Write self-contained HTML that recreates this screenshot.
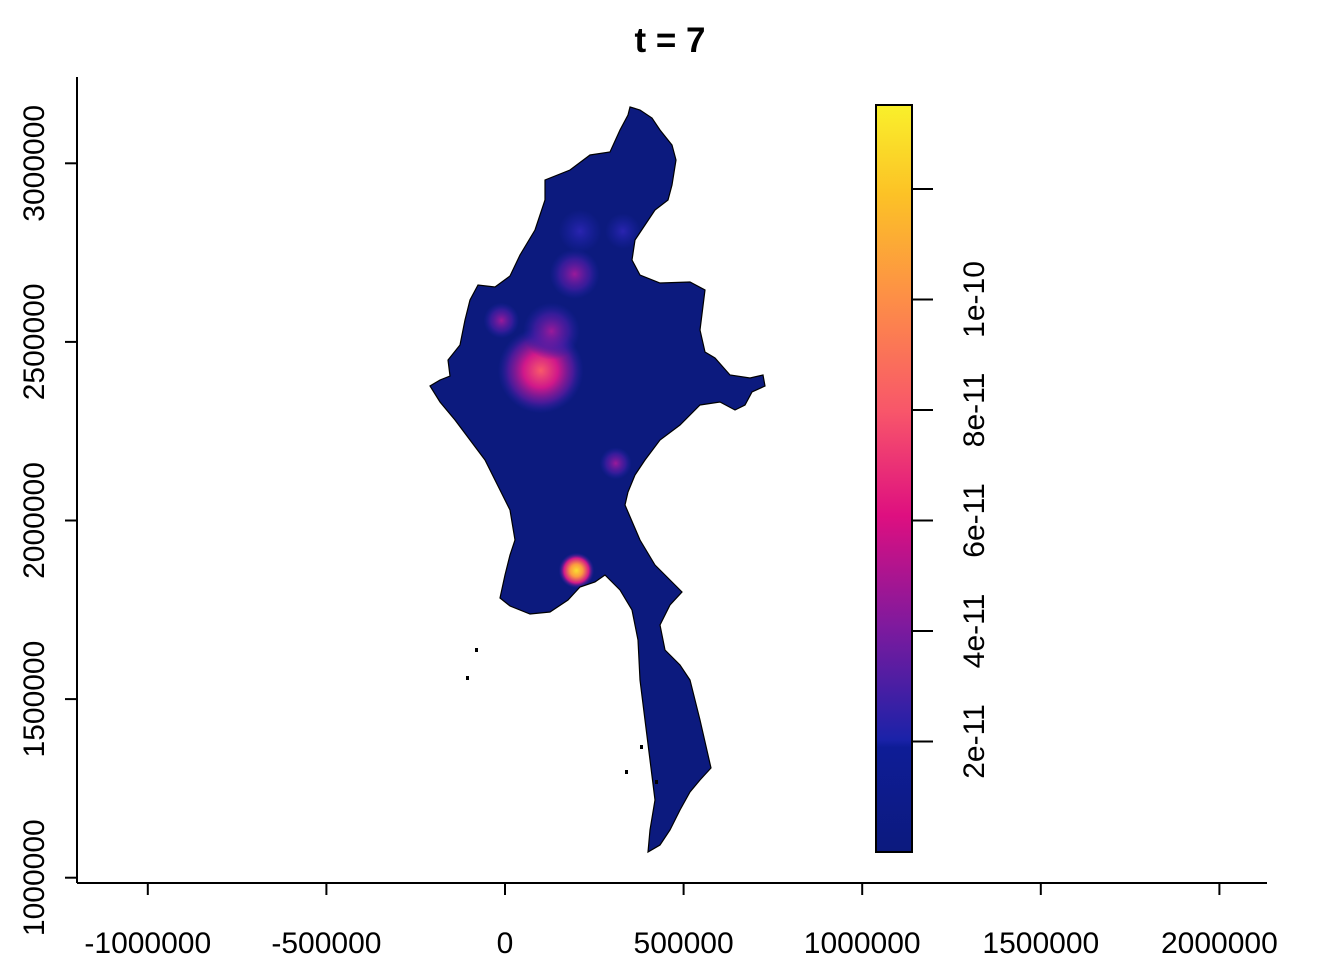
<!DOCTYPE html>
<html><head><meta charset="utf-8"><style>
html,body{margin:0;padding:0;background:#fff;}
svg{display:block;font-family:"Liberation Sans",Arial,sans-serif;}
</style></head><body>
<svg id="chart" width="1344" height="960" viewBox="0 0 1344 960">
<defs>
<linearGradient id="cbar" x1="0" y1="1" x2="0" y2="0">
<stop offset="0" stop-color="#0c1a7e"/>
<stop offset="0.14" stop-color="#0e1c96"/>
<stop offset="0.15" stop-color="#1a22a8"/>
<stop offset="0.3" stop-color="#7d1a9e"/>
<stop offset="0.45" stop-color="#de0f80"/>
<stop offset="0.59" stop-color="#f8566a"/>
<stop offset="0.74" stop-color="#fd8e47"/>
<stop offset="0.88" stop-color="#fcc226"/>
<stop offset="1" stop-color="#f9f02b"/>
</linearGradient>
<radialGradient id="hotPink"><stop offset="0" stop-color="#f85a6a"/><stop offset="0.4" stop-color="#d0188a"/><stop offset="0.75" stop-color="#5a1aa0" stop-opacity="0.8"/><stop offset="1" stop-color="#1a22a8" stop-opacity="0"/></radialGradient>
<radialGradient id="hotPurple"><stop offset="0" stop-color="#9a1a9a"/><stop offset="0.6" stop-color="#4a1ca6" stop-opacity="0.7"/><stop offset="1" stop-color="#1a22a8" stop-opacity="0"/></radialGradient>
<radialGradient id="hotBlue"><stop offset="0" stop-color="#2a24b0"/><stop offset="1" stop-color="#1a22a8" stop-opacity="0"/></radialGradient>
<radialGradient id="hotYellow"><stop offset="0" stop-color="#f9e030"/><stop offset="0.35" stop-color="#fc9a40"/><stop offset="0.7" stop-color="#d0188a"/><stop offset="1" stop-color="#1a22a8" stop-opacity="0"/></radialGradient>
<clipPath id="mapclip"><polygon id="clipPoly" points=""/></clipPath>
</defs>
<text x="670" y="52" text-anchor="middle" font-size="35" font-weight="bold">t = 7</text>
<g id="axes"></g>
<g id="map"></g>
<g id="legend"></g>
</svg>
<script>
const xTicks = [-1000000, -500000, 0, 500000, 1000000, 1500000, 2000000];
const yTicks = [1000000, 1500000, 2000000, 2500000, 3000000];
const legendTicks = [2e-11, 4e-11, 6e-11, 8e-11, 1e-10, 1.2e-10];
const legendLabels = ["2e-11", "4e-11", "6e-11", "8e-11", "1e-10", ""];
const legendMax = 1.352e-10;
const hotX = [100000, 130000, 195000, -10000, 310000, 200000, 210000, 330000];
const hotY = [2420000, 2530000, 2690000, 2560000, 2160000, 1860000, 2810000, 2810000];
const hotR = [120000, 80000, 70000, 50000, 45000, 50000, 60000, 50000];
const hotType = ["hotPink", "hotPurple", "hotPurple", "hotPurple", "hotPurple", "hotYellow", "hotBlue", "hotBlue"];

const NS = "http://www.w3.org/2000/svg";
const sx = v => 505 + v * (178.6 / 500000);
const sy = v => 520.5 - (v - 2000000) * (178.6 / 500000);
const ly = v => 852 - (v / legendMax) * 747;
function mk(tag, attrs, parent) { const e = document.createElementNS(NS, tag); for (const k in attrs) e.setAttribute(k, attrs[k]); parent.appendChild(e); return e; }

const axes = document.getElementById("axes");
const xl = mk("line", {x1: 77, x2: 1267, y1: 883, y2: 883, stroke: "#000", "stroke-width": 2}, axes);


const yl = mk("line", {x1: 77, x2: 77, y1: 77, y2: 883, stroke: "#000", "stroke-width": 2}, axes);


xTicks.forEach(t => {
  const x = sx(t);
  const tk = mk("line", {x1: x, x2: x, y1: 883, y2: 895, stroke: "#000", "stroke-width": 2}, axes);
  
  
  const tx = mk("text", {x: x, y: 953, "text-anchor": "middle", "font-size": 30}, axes);
  tx.textContent = t;
  
  
});
yTicks.forEach(t => {
  const y = sy(t);
  const tk = mk("line", {x1: 65, x2: 77, y1: y, y2: y, stroke: "#000", "stroke-width": 2}, axes);
  
  
  const tx = mk("text", {x: 0, y: 0, "text-anchor": "middle", "font-size": 30, transform: `translate(44,${y}) rotate(-90)`}, axes);
  tx.textContent = t;
  
  
});

const outline = "630,107 640,110 652,118 660,130 672,145 676,160 672,185 668,200 655,210 645,225 635,240 632,260 640,275 660,283 690,282 705,290 700,330 705,352 715,358 730,375 750,378 763,375 765,386 752,392 745,405 735,410 720,402 700,405 680,425 660,440 645,460 635,475 628,492 625,505 640,540 655,565 670,580 682,592 670,605 660,625 665,650 680,665 690,680 700,720 711,768 700,780 690,792 680,810 670,830 660,845 648,852 650,830 655,800 650,760 645,720 640,680 638,640 632,610 620,590 605,575 595,582 580,587 568,600 550,612 530,614 510,606 500,598 505,575 510,555 515,540 510,510 500,490 485,460 470,440 455,420 440,402 430,386 440,380 450,376 448,360 460,345 465,320 470,300 478,285 495,287 510,276 520,255 535,230 545,200 545,180 570,170 590,155 610,152 620,130 628,115";
document.getElementById("clipPoly").setAttribute("points", outline);
const map = document.getElementById("map");
const land = mk("polygon", {points: outline, fill: "#0c1a7e"}, map);


const hg = mk("g", {"clip-path": "url(#mapclip)"}, map);
hotX.forEach((hx, i) => {
  const r = hotR[i] * (178.6 / 500000);
  const c = mk("ellipse", {cx: sx(hx), cy: sy(hotY[i]), rx: r, ry: r, fill: `url(#${hotType[i]})`}, hg);
  
  
});
const border = mk("polygon", {points: outline, fill: "none", stroke: "#000", "stroke-width": 1.2}, map);


[[475,648],[466,676],[625,770],[640,745],[655,780]].forEach(p => {
  const s = mk("rect", {x: p[0], y: p[1], width: 3, height: 4, fill: "#000"}, map);
  
  
});

const lg = document.getElementById("legend");
const bar = mk("rect", {x: 876, y: 105, width: 36, height: 747, fill: "url(#cbar)", stroke: "#000", "stroke-width": 2}, lg);


legendTicks.forEach((t, i) => {
  const y = ly(t);
  const tk = mk("line", {x1: 912, x2: 933, y1: y, y2: y, stroke: "#000", "stroke-width": 2}, lg);
  
  
  if (legendLabels[i]) {
    const tx = mk("text", {x: 0, y: 0, "text-anchor": "middle", "font-size": 30, transform: `translate(984,${y}) rotate(-90)`}, lg);
    tx.textContent = legendLabels[i];
    
    
  }
});
</script>
</body></html>
